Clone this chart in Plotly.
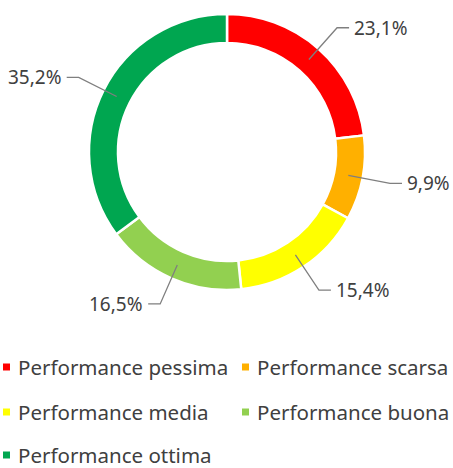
import math
import plotly.graph_objects as go

categories = ["Performance pessima", "Performance scarsa", "Performance media",
              "Performance buona", "Performance ottima"]
values = [23.1, 9.9, 15.4, 16.5, 35.2]
labels_txt = ["23,1%", "9,9%", "15,4%", "16,5%", "35,2%"]
colors = ["#FF0000", "#FFB000", "#FFFF00", "#92D050", "#00A650"]

W, H = 453, 468
CX, CY, R = 227, 152, 138
HOLE = 0.79
FONT = "Noto Sans"
TXT = "#404040"
FS_LEG = 20.5
FS_LAB = 19

def px(x):
    return x / W

def py(y):
    return 1 - y / H

fig = go.Figure()
fig.add_trace(go.Pie(
    labels=categories, values=values, sort=False, direction="clockwise",
    rotation=0, hole=HOLE, textinfo="none", showlegend=False,
    marker=dict(colors=colors, line=dict(color="white", width=2.5)),
    domain=dict(x=[px(CX - R), px(CX + R)], y=[py(CY + R), py(CY - R)]),
    hoverinfo="label+percent",
))

shapes = []
annotations = []
total = sum(values)
cum = 0.0
r_mid = R * (1 + HOLE) / 2
for v, t in zip(values, labels_txt):
    mid = (cum + v / 2) / total * 2 * math.pi
    cum += v
    s, c = math.sin(mid), math.cos(mid)
    x1, y1 = CX + r_mid * s, CY - r_mid * c
    re = 166
    x2, y2 = CX + re * s, CY - re * c
    right = s >= 0
    x3 = x2 + (12 if right else -12)
    path = f"M{px(x1)},{py(y1)} L{px(x2)},{py(y2)} L{px(x3)},{py(y2)}"
    shapes.append(dict(type="path", xref="paper", yref="paper", path=path,
                       line=dict(color="#7F7F7F", width=1.3)))
    annotations.append(dict(x=px(x3 + (3 if right else -3)), y=py(y2), xref="paper", yref="paper",
                            text=t, showarrow=False,
                            xanchor="left" if right else "right", yanchor="middle",
                            font=dict(family=FONT, size=FS_LAB, color=TXT)))

# manual legend (two columns)
col_x = [3, 242]
row_y = [367, 412, 455]
for i, (cat, col) in enumerate(zip(categories, colors)):
    xx = col_x[i % 2]
    yy = row_y[i // 2]
    shapes.append(dict(type="rect", xref="paper", yref="paper",
                       x0=px(xx), x1=px(xx + 7), y0=py(yy + 3.5), y1=py(yy - 3.5),
                       fillcolor=col, line=dict(width=0)))
    annotations.append(dict(x=px(xx + 13), y=py(yy), xref="paper", yref="paper",
                            text=cat, showarrow=False, xanchor="left", yanchor="middle",
                            font=dict(family=FONT, size=FS_LEG, color=TXT)))

fig.update_layout(
    width=W, height=H, margin=dict(l=0, r=0, t=0, b=0),
    paper_bgcolor="white", plot_bgcolor="white",
    shapes=shapes, annotations=annotations,
)
fig.write_html("out.html", config={"displayModeBar": False},
               post_script="document.body.style.margin='0';document.body.style.overflow='hidden';")
